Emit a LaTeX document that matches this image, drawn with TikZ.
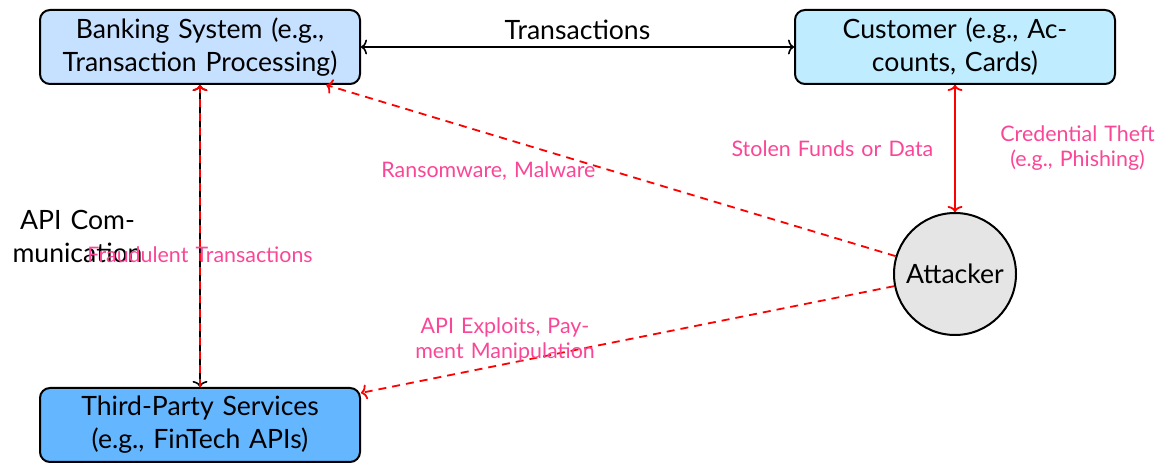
\documentclass[tikz,border=0pt]{standalone}
\usepackage{fontspec}
\setmainfont{Lato}
\usetikzlibrary{arrows.meta}
\definecolor{bankc}{RGB}{198,224,255}
\definecolor{custc}{RGB}{191,237,255}
\definecolor{thirdc}{RGB}{100,182,255}
\definecolor{pinkc}{RGB}{250,70,150}
\newcommand\mainfs{\fontsize{13.3}{16.5}\selectfont}
\newcommand\lblfs{\fontsize{10.7}{12.5}\selectfont}
\begin{document}
\begin{tikzpicture}[x=0.5pt,y=-0.5pt,
  >={To[length=3pt,width=7.5pt]},
  box/.style={draw, line width=1pt, rounded corners=5pt, minimum width=160pt,
    minimum height=37pt, text width=144pt, align=center, inner xsep=8pt, font=\mainfs},
  attnode/.style={draw, circle, line width=1pt, fill=gray!20, minimum size=61pt,
    inner sep=0pt, font=\mainfs},
  blk/.style={draw=black, line width=0.8pt, <->},
  attack/.style={draw=red, line width=0.9pt, dash pattern=on 4pt off 3pt, ->},
  lbl/.style={font=\lblfs, text=pinkc, text width=115pt, align=center},
  mlbl/.style={font=\mainfs, text=black, text width=115pt, align=center}]
\useasboundingbox (0,0) rectangle (1168,464);
\node[box, fill=bankc] (bank) at (200,47) {Banking System (e.g.,\\Transaction Processing)};
\node[box, fill=custc] (cust) at (955,47) {Customer (e.g., Ac-\\counts, Cards)};
\node[box, fill=thirdc] (third) at (200,425) {Third-Party Services\\(e.g., FinTech APIs)};
\node[attnode] (att) at (955,274) {Attacker};
\draw[blk] (bank) -- node[above, font=\mainfs]{Transactions} (cust);
\draw[blk] (bank) -- node[left, mlbl]{API Com-\\munication} (third);
\draw[attack] (third) -- node[below, lbl, yshift=-1.5pt]{Fraudulent Transactions} (bank);
\draw[attack] (att) -- node[left, lbl]{Ransomware, Malware} (bank);
\draw[attack] (att) -- node[left, lbl]{API Exploits, Pay-\\ment Manipulation} (third);
\draw[attack] (cust) -- node[left, lbl]{Stolen Funds or Data} (att);
\draw[attack] (att) -- node[right, lbl]{Credential Theft\\(e.g., Phishing)} (cust);
\end{tikzpicture}
\end{document}
